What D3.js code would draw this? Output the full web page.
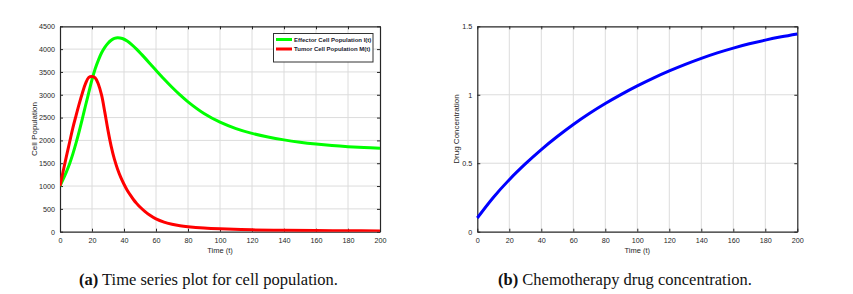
<!DOCTYPE html>
<html><head><meta charset="utf-8">
<script src="https://cdn.jsdelivr.net/npm/d3@7"></script>
<style>body{margin:0;background:#fff}svg{display:block}</style>
</head><body><svg id="c" width="853" height="294"></svg>
<script>
// ---- data ----
const timeTicks = [0,20,40,60,80,100,120,140,160,180,200];
const cellTicks = [0,500,1000,1500,2000,2500,3000,3500,4000,4500];
const drugTicks = [0,0.5,1,1.5];
const drugTickLabels = ["0","0.5","1","1.5"];

const effectorT = [0,2,4,6,8,10,12,14,16,18,20,22,24,26,28,30,32,34,36,39,42,45,48,51,54,57,60,65,70,75,80,90,100,110,120,130,140,150,160,170,180,190,200];
const effectorI = [1000,1150,1310,1490,1700,1940,2200,2480,2770,3050,3330,3570,3760,3920,4040,4130,4195,4235,4250,4232,4178,4095,3995,3885,3770,3652,3535,3345,3165,2998,2845,2590,2400,2260,2155,2075,2012,1962,1922,1889,1863,1843,1828];

const tumorT = [0,2,4,6,8,10,12,14,16,18,20,22,24,26,28,30,32,34,36,38,40,42,44,46,48,50,53,56,60,65,70,75,80,90,100,120,140,160,180,200];
const tumorM = [1000,1330,1650,1960,2270,2540,2800,3040,3250,3380,3400,3370,3230,2990,2620,2220,1870,1590,1370,1190,1040,910,800,700,615,540,445,365,280,210,165,132,110,80,62,40,30,24,20,17];

const drugT = [0,10,20,30,40,50,60,70,80,90,100,110,120,130,140,150,160,170,180,190,200];
const drugC = [0.10,0.25,0.38,0.495,0.60,0.695,0.783,0.863,0.936,1.003,1.065,1.122,1.174,1.222,1.266,1.306,1.341,1.372,1.399,1.423,1.444];

const svg = d3.select("#c");
svg.append("rect").attr("width",853).attr("height",294).attr("fill","#fff");

const AX = "#262626", GRID = "#dcdcdc";
const FONT = "'Liberation Sans', Arial, sans-serif";

function panel(x0, x1, y0, y1, yDomain, yTicks, yLabels, yTitle, yTitleX) {
  const x = d3.scaleLinear().domain([0,200]).range([x0,x1]);
  const y = d3.scaleLinear().domain(yDomain).range([y1,y0]);
  const g = svg.append("g");
  g.append("g").selectAll("line").data(timeTicks.slice(1,-1)).join("line")
    .attr("x1",d=>x(d)).attr("x2",d=>x(d)).attr("y1",y0).attr("y2",y1)
    .attr("stroke",GRID).attr("stroke-width",1);
  g.append("g").selectAll("line").data(yTicks.slice(1,-1)).join("line")
    .attr("y1",d=>y(d)).attr("y2",d=>y(d)).attr("x1",x0).attr("x2",x1)
    .attr("stroke",GRID).attr("stroke-width",1);
  const fmtY = d => yLabels ? yLabels[yTicks.indexOf(d)] : d;
  const bx = g.append("g").attr("transform",`translate(0,${y1})`)
    .call(d3.axisBottom(x).tickValues(timeTicks).tickSizeInner(-3).tickSizeOuter(0).tickPadding(6));
  const tx = g.append("g").attr("transform",`translate(0,${y0})`)
    .call(d3.axisTop(x).tickValues(timeTicks).tickSizeInner(-3).tickSizeOuter(0).tickFormat(""));
  const ly = g.append("g").attr("transform",`translate(${x0},0)`)
    .call(d3.axisLeft(y).tickValues(yTicks).tickSizeInner(-3).tickSizeOuter(0).tickPadding(5).tickFormat(fmtY));
  const ry = g.append("g").attr("transform",`translate(${x1},0)`)
    .call(d3.axisRight(y).tickValues(yTicks).tickSizeInner(-3).tickSizeOuter(0).tickFormat(""));
  [bx,tx,ly,ry].forEach(a=>{
    a.select(".domain").attr("stroke",AX).attr("stroke-width",1.2);
    a.selectAll(".tick line").attr("stroke",AX);
    a.selectAll("text").attr("fill",AX).style("font-family",FONT).style("font-size","7.2px");
  });
  g.append("text").attr("x",(x0+x1)/2).attr("y",253).attr("text-anchor","middle")
    .attr("fill",AX).style("font-family",FONT).style("font-size","7.5px").text("Time (t)");
  g.append("text").attr("transform",`translate(${yTitleX},${(y0+y1)/2}) rotate(-90)`)
    .attr("text-anchor","middle").attr("fill",AX).style("font-family",FONT).style("font-size","8px").text(yTitle);
  return {x,y,g};
}

// ---- panel a ----
const A = panel(60,380,26.3,231.7,[0,4500],cellTicks,null,"Cell Population",37);
svg.append("clipPath").attr("id","ca").append("rect").attr("x",60).attr("y",26.3).attr("width",320).attr("height",205.4);
const lineA = (T,V)=> d3.line().x((d,i)=>A.x(T[i])).y(d=>A.y(d)).curve(d3.curveCatmullRom.alpha(0.5))(V);
A.g.append("path").attr("d",lineA(effectorT,effectorI)).attr("fill","none").attr("stroke","#00ff00").attr("stroke-width",3).attr("clip-path","url(#ca)");
A.g.append("path").attr("d",lineA(tumorT,tumorM)).attr("fill","none").attr("stroke","#ff0000").attr("stroke-width",3).attr("clip-path","url(#ca)");

// legend
const lg = A.g.append("g");
lg.append("rect").attr("x",273.5).attr("y",33.5).attr("width",99.5).attr("height",28.5).attr("fill","#fff").attr("stroke","#333").attr("stroke-width",1);
const legendItems = [{label:"Effector Cell Population I(t)",color:"#00ff00",y:39.5},{label:"Tumor Cell Population M(t)",color:"#ff0000",y:49}];
legendItems.forEach(it=>{
  lg.append("line").attr("x1",276).attr("x2",292).attr("y1",it.y).attr("y2",it.y).attr("stroke",it.color).attr("stroke-width",3);
  lg.append("text").attr("x",294).attr("y",it.y+2.2).attr("fill","#1a1a2e").style("font-family",FONT).style("font-size","6px").style("font-weight","bold").text(it.label);
});

// ---- panel b ----
const B = panel(477.3,797.3,26.3,231.7,[0,1.5],drugTicks,drugTickLabels,"Drug Concentration",458.5);
const lineB = d3.line().x((d,i)=>B.x(drugT[i])).y(d=>B.y(d)).curve(d3.curveCatmullRom.alpha(0.5));
B.g.append("path").attr("d",lineB(drugC)).attr("fill","none").attr("stroke","#0000ff").attr("stroke-width",3);

// ---- captions ----
function caption(x, tag, rest){
  const t = svg.append("text").attr("x",x).attr("y",285).attr("fill","#111")
    .style("font-family","'Liberation Serif','Times New Roman',serif").style("font-size","16.5px");
  t.append("tspan").style("font-weight","bold").text(tag);
  t.append("tspan").text(" "+rest);
}
caption(79,"(a)","Time series plot for cell population.");
caption(498,"(b)","Chemotherapy drug concentration.");
</script></body></html>
